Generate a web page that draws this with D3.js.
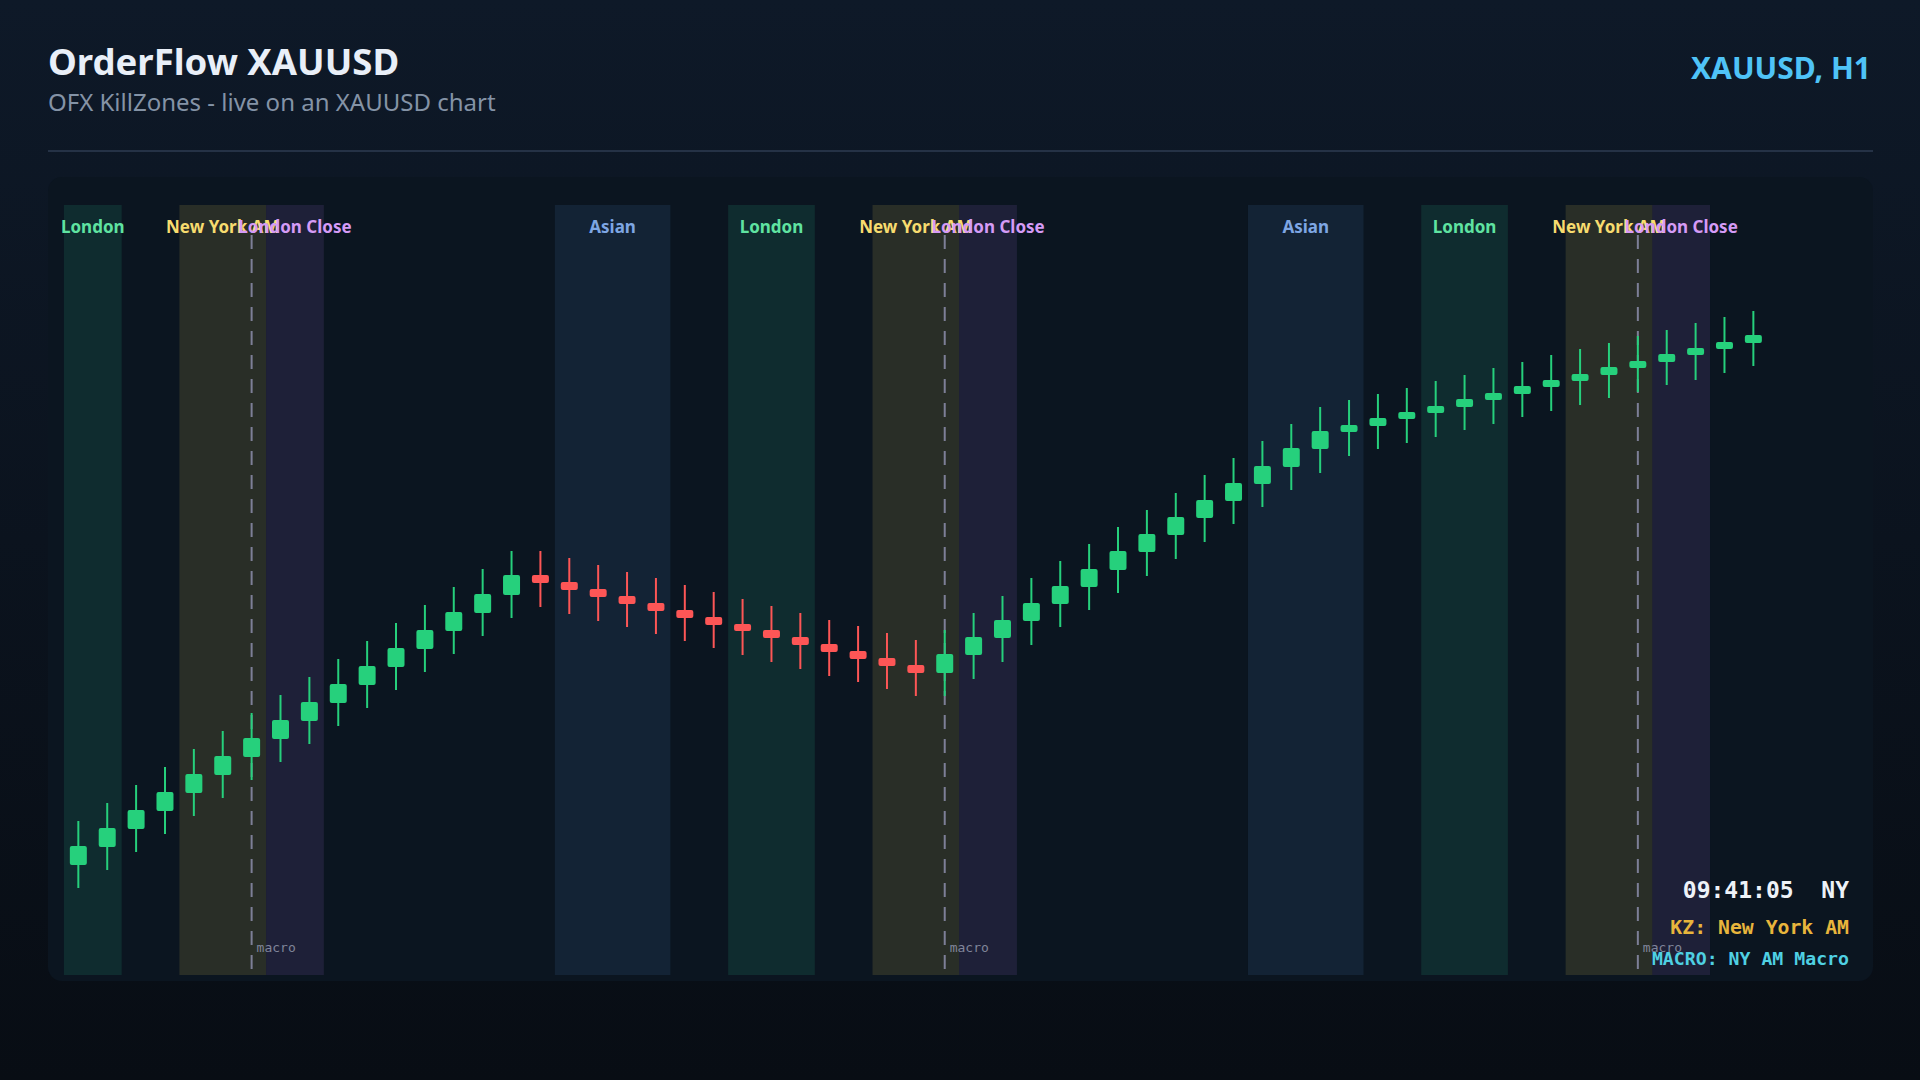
<!DOCTYPE html>
<html>
<head>
<meta charset="utf-8">
<title>OrderFlow XAUUSD</title>
<script src="https://cdn.jsdelivr.net/npm/d3@7"></script>
<style>
  html, body { margin: 0; padding: 0; background: #0a1019; }
  svg { display: block; }
</style>
</head>
<body>
<svg id="chart" width="1920" height="1080"></svg>
<script>
// hour of each H1 candle (NY time)
var hours = [3, 4, 5, 6, 7, 8, 9, 10, 11, 12, 13, 14, 15, 16, 17, 18, 19, 20, 21, 22, 23,
             0, 1, 2, 3, 4, 5, 6, 7, 8, 9, 10, 11, 12, 13, 14, 15, 16, 17, 18, 19, 20, 21, 22, 23,
             0, 1, 2, 3, 4, 5, 6, 7, 8, 9, 10, 11, 12, 13];

var opens  = [2308.75, 2313.25, 2317.75, 2322.25, 2326.75, 2331.25, 2335.75, 2340.25, 2344.75, 2349.25,
              2353.75, 2358.25, 2362.75, 2367.25, 2371.75, 2376.25, 2381.25, 2379.5, 2377.75, 2376.0,
              2374.25, 2372.5, 2370.75, 2369.0, 2367.5, 2365.75, 2364.0, 2362.25, 2360.5, 2358.75,
              2356.75, 2361.25, 2365.5, 2369.75, 2374.0, 2378.25, 2382.5, 2387.0, 2391.25, 2395.5,
              2399.75, 2404.0, 2408.25, 2412.75, 2417.0, 2418.5, 2420.25, 2421.75, 2423.25, 2425.0,
              2426.5, 2428.25, 2429.75, 2431.25, 2433.0, 2434.5, 2436.25, 2437.75, 2439.25];
var highs  = [2319.75, 2324.25, 2328.75, 2333.25, 2337.75, 2342.25, 2346.75, 2351.25, 2355.75, 2360.25,
              2364.75, 2369.25, 2373.75, 2378.25, 2382.75, 2387.25, 2387.25, 2385.5, 2383.75, 2382.0,
              2380.5, 2378.75, 2377.0, 2375.25, 2373.5, 2371.75, 2370.0, 2368.5, 2366.75, 2365.0,
              2367.5, 2371.75, 2376.0, 2380.5, 2384.75, 2389.0, 2393.25, 2397.5, 2401.75, 2406.25,
              2410.5, 2414.75, 2419.0, 2423.25, 2425.0, 2426.5, 2428.0, 2429.75, 2431.25, 2433.0,
              2434.5, 2436.25, 2437.75, 2439.25, 2441.0, 2442.5, 2444.25, 2445.75, 2447.25];
var lows   = [2303.0, 2307.5, 2312.0, 2316.5, 2321.0, 2325.5, 2330.0, 2334.5, 2339.0, 2343.5,
              2348.0, 2352.5, 2357.0, 2361.5, 2366.0, 2370.5, 2373.25, 2371.5, 2369.75, 2368.25,
              2366.5, 2364.75, 2363.0, 2361.25, 2359.5, 2357.75, 2356.0, 2354.5, 2352.75, 2351.0,
              2351.0, 2355.25, 2359.5, 2363.75, 2368.25, 2372.5, 2376.75, 2381.0, 2385.25, 2389.5,
              2394.0, 2398.25, 2402.5, 2406.75, 2411.0, 2412.75, 2414.25, 2415.75, 2417.5, 2419.0,
              2420.75, 2422.25, 2423.75, 2425.5, 2427.0, 2428.75, 2430.0, 2431.75, 2433.5];
var closes = [2313.5, 2318.0, 2322.5, 2327.0, 2331.5, 2336.0, 2340.5, 2345.0, 2349.5, 2354.0,
              2358.5, 2363.0, 2367.5, 2372.0, 2376.5, 2381.25, 2379.25, 2377.5, 2375.75, 2374.0,
              2372.25, 2370.5, 2368.75, 2367.25, 2365.5, 2363.75, 2362.0, 2360.25, 2358.5, 2356.75,
              2361.5, 2365.75, 2370.0, 2374.25, 2378.5, 2382.75, 2387.25, 2391.5, 2395.75, 2400.0,
              2404.25, 2408.5, 2413.0, 2417.25, 2418.75, 2420.5, 2422.0, 2423.5, 2425.25, 2426.75,
              2428.5, 2430.0, 2431.5, 2433.25, 2434.75, 2436.5, 2438.0, 2439.5, 2441.25];

// kill zones, NY hours [start, end)
var zoneNames = ["Asian", "London", "New York AM", "London Close"];
var zoneStart = [20, 2, 7, 10];
var zoneEnd   = [24, 5, 10, 12];
var zoneFill  = ["rgba(96,165,250,0.10)", "rgba(52,211,153,0.12)", "rgba(250,220,90,0.13)", "rgba(192,132,252,0.11)"];
var zoneText  = ["#7ea6e3", "#5fe3a1", "#f7dc6f", "#d59bf6"];
var macroHour = 9;

var clockText = "09:41:05  NY";
var kzText = "KZ: New York AM";
var macroText = "MACRO: NY AM Macro";

var svg = d3.select("#chart");
var defs = svg.append("defs");
var bg = defs.append("linearGradient").attr("id", "bg").attr("x1", 0).attr("y1", 0).attr("x2", 0).attr("y2", 1);
bg.append("stop").attr("offset", "0%").attr("stop-color", "#0e1928");
bg.append("stop").attr("offset", "100%").attr("stop-color", "#080d14");

svg.append("rect").attr("width", 1920).attr("height", 1080).attr("fill", "url(#bg)");

// header
svg.append("text").attr("x", 48).attr("y", 75)
  .attr("fill", "#e9eff8").style("font", "700 36.5px 'Noto Sans', sans-serif")
  .text("OrderFlow XAUUSD");
svg.append("text").attr("x", 48).attr("y", 111)
  .attr("fill", "#8493a6").style("font", "400 24px 'Noto Sans', sans-serif")
  .text("OFX KillZones - live on an XAUUSD chart");
svg.append("text").attr("x", 1871).attr("y", 79).attr("text-anchor", "end")
  .attr("fill", "#4fc3f7").style("font", "700 30px 'Noto Sans', sans-serif")
  .text("XAUUSD, H1");
svg.append("line").attr("x1", 48).attr("x2", 1873).attr("y1", 151).attr("y2", 151)
  .attr("stroke", "#253246").attr("stroke-width", 2);

// panel
svg.append("rect").attr("x", 48).attr("y", 177).attr("width", 1825).attr("height", 804)
  .attr("rx", 14).attr("fill", "#0b1520");

var idx = d3.range(opens.length);
var x = d3.scaleBand().domain(idx).range([63.9, 1767.8]).padding(0);
var y = d3.scaleLinear().domain([2300, 2450]).range([900, 300]);
var zoneTop = 205, zoneBottom = 975;

// group contiguous candles inside each zone
var runs = [];
zoneNames.forEach(function(name, z) {
  var cur = null;
  idx.forEach(function(i) {
    var inside = hours[i] >= zoneStart[z] && hours[i] < zoneEnd[z];
    if (inside) {
      if (cur && cur.last == i - 1) cur.last = i;
      else { cur = {z: z, first: i, last: i}; runs.push(cur); }
    }
  });
});

var zones = svg.append("g");
zones.selectAll("rect").data(runs).enter().append("rect")
  .attr("x", function(d) { return x(d.first); })
  .attr("width", function(d) { return x(d.last) + x.bandwidth() - x(d.first); })
  .attr("y", zoneTop).attr("height", zoneBottom - zoneTop)
  .attr("fill", function(d) { return zoneFill[d.z]; });

// macro lines
var macros = idx.filter(function(i) { return hours[i] == macroHour; });
var mg = svg.append("g");
mg.selectAll("line").data(macros).enter().append("line")
  .attr("x1", function(i) { return x(i) + x.bandwidth() / 2; })
  .attr("x2", function(i) { return x(i) + x.bandwidth() / 2; })
  .attr("y1", 235).attr("y2", zoneBottom)
  .attr("stroke", "#7d7f97").attr("stroke-width", 2).attr("stroke-dasharray", "14,10");
mg.selectAll("text").data(macros).enter().append("text")
  .attr("x", function(i) { return x(i) + x.bandwidth() / 2 + 5; })
  .attr("y", 952)
  .attr("fill", "#80859a").style("font", "400 13px 'DejaVu Sans Mono', monospace")
  .text("macro");

// candles
var cw = 17;
var cg = svg.append("g");
var candle = cg.selectAll("g").data(idx).enter().append("g");
candle.append("line")
  .attr("x1", function(i) { return x(i) + x.bandwidth() / 2; })
  .attr("x2", function(i) { return x(i) + x.bandwidth() / 2; })
  .attr("y1", function(i) { return y(highs[i]); })
  .attr("y2", function(i) { return y(lows[i]); })
  .attr("stroke", function(i) { return closes[i] >= opens[i] ? "#26d07c" : "#fd5656"; })
  .attr("stroke-width", 2);
candle.append("rect")
  .attr("x", function(i) { return x(i) + x.bandwidth() / 2 - cw / 2; })
  .attr("width", cw)
  .attr("y", function(i) { return y(Math.max(opens[i], closes[i])); })
  .attr("height", function(i) { return Math.max(1, Math.abs(y(opens[i]) - y(closes[i]))); })
  .attr("rx", 2)
  .attr("fill", function(i) { return closes[i] >= opens[i] ? "#26d07c" : "#fd5656"; });

// zone labels
zones.selectAll("text").data(runs).enter().append("text")
  .attr("x", function(d) { return (x(d.first) + x(d.last) + x.bandwidth()) / 2; })
  .attr("y", 233).attr("text-anchor", "middle")
  .attr("fill", function(d) { return zoneText[d.z]; })
  .style("font", "700 17px 'Noto Sans', sans-serif")
  .text(function(d) { return zoneNames[d.z]; });

// clock block
var mono = "'DejaVu Sans Mono', monospace";
svg.append("text").attr("x", 1849).attr("y", 898).attr("text-anchor", "end")
  .attr("xml:space", "preserve").style("white-space", "pre")
  .attr("fill", "#eef2f8").style("font", "700 23px " + mono).text(clockText);
svg.append("text").attr("x", 1849).attr("y", 934).attr("text-anchor", "end")
  .attr("fill", "#e8b53c").style("font", "700 19.8px " + mono).text(kzText);
svg.append("text").attr("x", 1849).attr("y", 965).attr("text-anchor", "end")
  .attr("fill", "#4fd0e3").style("font", "700 18.2px " + mono).text(macroText);
</script>
</body>
</html>
